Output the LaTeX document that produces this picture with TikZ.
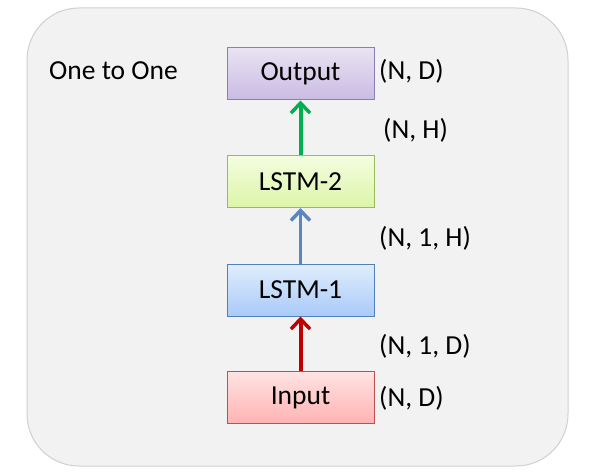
\documentclass[tikz,border=0pt]{standalone}
\usepackage{fontspec}
\setmainfont{Carlito}
\usetikzlibrary{arrows.meta}

\definecolor{panelfill}{HTML}{F2F2F2}
\definecolor{paneldraw}{HTML}{D0D0D0}
\definecolor{outdraw}{HTML}{8E7CB4}
\definecolor{outtop}{HTML}{E9E3F3}
\definecolor{outbot}{HTML}{C9BBE2}
\definecolor{twodraw}{HTML}{9BBB59}
\definecolor{twotop}{HTML}{F4FDE0}
\definecolor{twobot}{HTML}{DCF5A8}
\definecolor{onedraw}{HTML}{4F81BD}
\definecolor{onetop}{HTML}{E1EDFC}
\definecolor{onebot}{HTML}{A9CAF8}
\definecolor{indraw}{HTML}{C0504D}
\definecolor{intop}{HTML}{FFE3E3}
\definecolor{inbot}{HTML}{FFB3B3}
\definecolor{greenarr}{HTML}{00B050}
\definecolor{bluearr}{HTML}{5B86BE}
\definecolor{redarr}{HTML}{C00000}

\begin{document}
\begin{tikzpicture}[x=1pt, y=-1pt,
		font=\fontsize{27.5}{32}\selectfont,
		layer/.style={minimum width=147pt, minimum height=52pt, line width=1pt, inner sep=0pt},
		shape lbl/.style={anchor=west, inner sep=0pt},
		flow/.style={line width=4pt, -{Straight Barb[length=10pt, width=19pt, line width=3.5pt]}}]
			\useasboundingbox (0, 0) rectangle (609, 473);
			\draw[paneldraw, fill=panelfill, rounded corners=52pt, line width=1pt] (27, 8) rectangle (568, 466);

			\node[anchor=west, inner sep=0pt] (title) at (49, 71) {One to One};

			\node[layer, draw=outdraw, top color=outtop, bottom color=outbot] (out) at (300.5, 74) {Output};
			\node[layer, draw=twodraw, top color=twotop, bottom color=twobot] (lstm2) at (300.5, 181.5) {LSTM-2};
			\node[layer, draw=onedraw, top color=onetop, bottom color=onebot] (lstm1) at (300.5, 290) {LSTM-1};
			\node[layer, draw=indraw, top color=intop, bottom color=inbot] (in) at (300.5, 397.5) {Input};

			\draw[flow, greenarr] (lstm2) -- (out);
			\draw[flow, bluearr, line width=3pt] (lstm1) -- (lstm2);
			\draw[flow, redarr] (in) -- (lstm1);

			\node[shape lbl] (outdim) at (379, 71) {(N, D)};
			\node[shape lbl] (hdim) at (383, 130) {(N, H)};
			\node[shape lbl] (seqh) at (379, 238) {(N, 1, H)};
			\node[shape lbl] (seqd) at (379, 346) {(N, 1, D)};
			\node[shape lbl] (indim) at (379, 398) {(N, D)};
		\end{tikzpicture}
\end{document}
